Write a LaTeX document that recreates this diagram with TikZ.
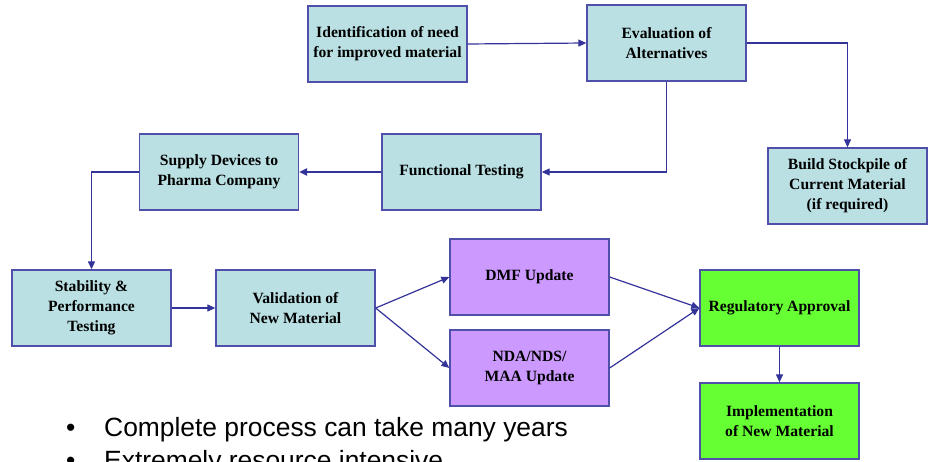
\documentclass[tikz,border=0pt]{standalone}
\usepackage{fontspec}
\setmainfont{Liberation Serif}
\newfontfamily\bulletfont{Liberation Sans}
\usetikzlibrary{arrows.meta}
\definecolor{boxcyan}{RGB}{186,224,227}
\definecolor{boxpurple}{RGB}{204,153,255}
\definecolor{boxgreen}{RGB}{102,255,51}
\definecolor{edgeblue}{RGB}{80,80,170}
\definecolor{linkblue}{RGB}{51,51,153}
\tikzset{
  x=1bp, y=-1bp,
  stepbox/.style={draw=edgeblue, line width=1.3bp, rectangle, minimum width=159bp, minimum height=76bp,
    align=center, inner sep=2bp, font=\fontsize{15.7}{20}\selectfont\bfseries},
  cyanbox/.style={stepbox, fill=boxcyan},
  purplebox/.style={stepbox, fill=boxpurple},
  greenbox/.style={stepbox, fill=boxgreen},
  link/.style={draw=linkblue, line width=1.2bp, -{Triangle[length=8bp,width=7bp]}},
  bullettext/.style={anchor=base west, font=\bulletfont\fontsize{26.5}{33}\selectfont, inner sep=0pt},
}
\begin{document}
\begin{tikzpicture}
\useasboundingbox (0,0) rectangle (931,462);
\clip (0,0) rectangle (931,462);
\node[cyanbox] (ident) at (387.5,44) {Identification of need\\for improved material};
\node[cyanbox] (eval) at (666.5,43) {Evaluation of\\Alternatives};
\node[cyanbox] (stock) at (847.5,186) {Build Stockpile of\\Current Material\\(if required)};
\node[cyanbox] (func) at (461.5,172) {Functional Testing};
\node[cyanbox] (supply) at (219,172) {Supply Devices to\\Pharma Company};
\node[cyanbox] (stab) at (91.5,308) {Stability \&\\Performance\\Testing};
\node[cyanbox] (valid) at (295.5,308) {Validation of\\New Material};
\node[purplebox] (dmf) at (529.5,277) {DMF Update};
\node[purplebox] (nda) at (529.5,368) {NDA/NDS/\\MAA Update};
\node[greenbox] (reg) at (779.5,308) {Regulatory Approval};
\node[greenbox] (impl) at (779.5,421) {Implementation\\of New Material};

\draw[link] (ident.east) -- (eval.west);
\draw[link] (eval.east) -| (stock.north);
\draw[link] (eval.south) |- (func.east);
\draw[link, line width=2bp] (func.west) -- (supply.east);
\draw[link] (supply.west) -| (stab.north);
\draw[link] (stab.east) -- (valid.west);
\draw[link] (valid.east) -- (dmf.west);
\draw[link] (valid.east) -- (nda.west);
\draw[link] (dmf.east) -- (reg.west);
\draw[link] (nda.east) -- (reg.west);
\draw[link] (reg.south) -- (impl.north);

\node[bullettext] (d1) at (66,436) {\textbullet};
\node[bullettext] (b1) at (104,436) {Complete process can take many years};
\node[bullettext] (d2) at (66,469) {\textbullet};
\node[bullettext] (b2) at (104,469) {Extremely resource intensive};
\end{tikzpicture}
\end{document}
